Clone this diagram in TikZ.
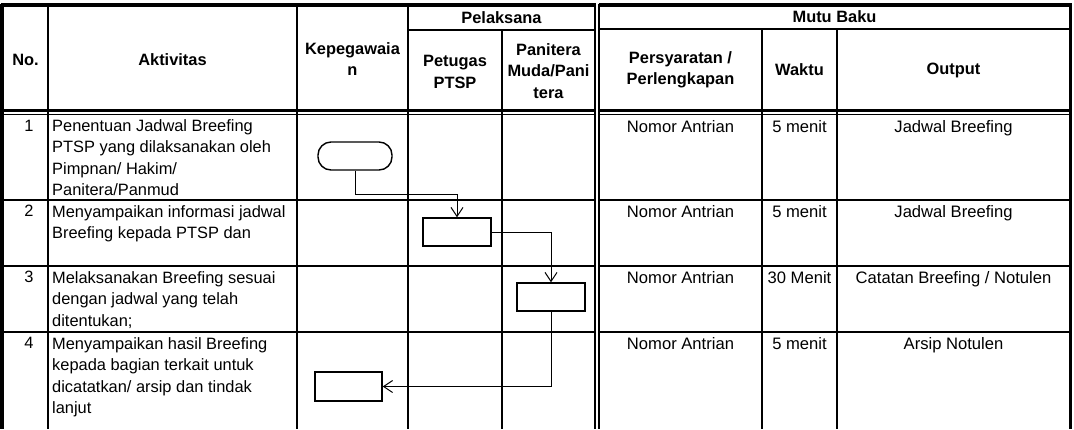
\documentclass[tikz,border=0pt]{standalone}
\usepackage{fontspec}
\setmainfont{Liberation Sans}
\usetikzlibrary{arrows.meta}
\begin{document}
\begin{tikzpicture}[x=1pt,y=-1pt,
  grid/.style={line width=2pt},
  thick border/.style={line width=3.5pt},
  hdr/.style={font=\fontsize{16.4}{21.5}\selectfont\bfseries, align=center, inner sep=0pt},
  bodyl/.style={font=\fontsize{16.4}{21.6}\selectfont, inner sep=0pt, align=left, anchor=north west},
  bodyc/.style={font=\fontsize{16.6}{21.6}\selectfont, inner sep=0pt, align=center, anchor=north},
  numtext/.style={font=\fontsize{16.4}{21.6}\selectfont, inner sep=0pt, anchor=north},
  flowbox/.style={draw, line width=1.4pt, minimum width=68pt, minimum height=28pt, inner sep=0pt},
  termbox/.style={flowbox, rounded corners=13pt, minimum width=74pt},
  conn/.style={line width=1pt, -{Straight Barb[length=9pt,width=12pt,line width=1pt]}}
]
\useasboundingbox (0,0) rectangle (1074,429);
\fill[white] (0,0) rectangle (1074,429);

% ---- left table frame ----
\draw[line width=4pt] (2.2,3.5) -- (2.2,429);
\draw[thick border] (0.5,5) -- (596,5);
\draw[line width=2.5pt] (595,3.5) -- (595,429);
\draw[grid] (48,5) -- (48,429);
\draw[grid] (297,5) -- (297,429);
\draw[grid] (408,5) -- (408,429);
\draw[grid] (502,30) -- (502,429);
\draw[grid] (408,30) -- (595,30);
% ---- right table frame ----
\draw[thick border] (598.5,5) -- (1071.5,5);
\draw[line width=2.5pt] (599,3.5) -- (599,429);
\draw[line width=3pt] (1070,3.5) -- (1070,429);
\draw[grid] (599,29) -- (1070,29);
\draw[grid] (762,29) -- (762,429);
\draw[grid] (837,29) -- (837,429);
% ---- header bottom double line ----
\draw[line width=3pt] (0.5,110) -- (596,110);
\draw[line width=1.3pt] (0.5,114.5) -- (596,114.5);
\draw[line width=3pt] (598,110) -- (1071.5,110);
\draw[line width=1.3pt] (598,114.5) -- (1071.5,114.5);
% ---- row lines ----
\foreach \yy in {200,266,332} {
  \draw[grid] (0.5,\yy) -- (595,\yy);
  \draw[grid] (599,\yy) -- (1070,\yy);
}

% ---- header texts ----
\node[hdr] (hNo) at (25.5,60) {No.};
\node[hdr] (hAkt) at (172.5,60) {Aktivitas};
\node[hdr] (hKep) at (352.5,59) {Kepegawaia\\n};
\node[hdr] (hPel) at (501.5,18) {Pelaksana};
\node[hdr] (hPet) at (455,72) {Petugas\\PTSP};
\node[hdr] (hPan) at (548.5,71) {Panitera\\Muda/Pani\\tera};
\node[hdr] (hMutu) at (834.5,17) {Mutu Baku};
\node[hdr] (hPers) at (680.5,70) {Persyaratan /\\Perlengkapan};
\node[hdr] (hWak) at (799.5,70) {Waktu};
\node[hdr] (hOut) at (953.5,70) {Output};

% ---- row numbers ----
\node[numtext] (n1) at (29,120) {1};
\node[numtext] (n2) at (29,205) {2};
\node[numtext] (n3) at (29,271) {3};
\node[numtext] (n4) at (29,337) {4};

% ---- activities ----
\node[bodyl] (a1) at (52,119) {Penentuan Jadwal Breefing\\PTSP yang dilaksanakan oleh\\Pimpnan/ Hakim/\\Panitera/Panmud};
\node[bodyl] (a2) at (52,205) {Menyampaikan informasi jadwal\\Breefing kepada PTSP dan};
\node[bodyl] (a3) at (52,271) {Melaksanakan Breefing sesuai\\dengan jadwal yang telah\\ditentukan;};
\node[bodyl] (a4) at (52,337) {Menyampaikan hasil Breefing\\kepada bagian terkait untuk\\dicatatkan/ arsip dan tindak\\lanjut};

% ---- mutu baku ----
\node[bodyc] (p1) at (680.5,120) {Nomor Antrian};
\node[bodyc] (p2) at (680.5,205) {Nomor Antrian};
\node[bodyc] (p3) at (680.5,271) {Nomor Antrian};
\node[bodyc] (p4) at (680.5,337) {Nomor Antrian};
\node[bodyc] (w1) at (799.5,120) {5 menit};
\node[bodyc] (w2) at (799.5,205) {5 menit};
\node[bodyc] (w3) at (799.5,271) {30 Menit};
\node[bodyc] (w4) at (799.5,337) {5 menit};
\node[bodyc] (o1) at (953.5,120) {Jadwal Breefing};
\node[bodyc] (o2) at (953.5,205) {Jadwal Breefing};
\node[bodyc] (o3) at (953.5,271) {Catatan Breefing / Notulen};
\node[bodyc] (o4) at (953.5,337) {Arsip Notulen};

% ---- flowchart ----
\node[termbox] (t1) at (355,156) {};
\node[flowbox] (b2) at (457,232) {};
\node[flowbox] (b3) at (551,297) {};
\node[flowbox, minimum width=67pt, minimum height=29pt] (b4) at (348.5,386.5) {};
\coordinate (j1) at (355,194);
\draw[conn] (t1.south) -- (j1) -| (b2.north);
\draw[conn] (b2.east) -| (b3.north);
\draw[conn] (b3.south) |- (b4.east);
\end{tikzpicture}
\end{document}
